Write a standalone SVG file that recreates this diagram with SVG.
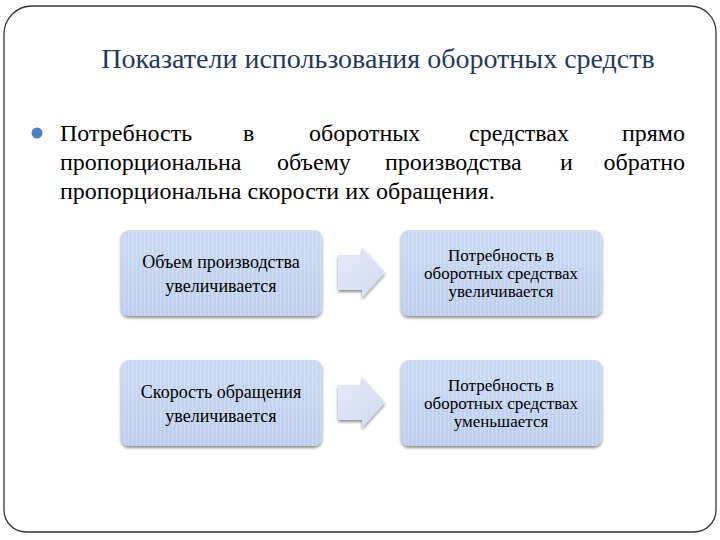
<svg xmlns="http://www.w3.org/2000/svg" width="720" height="540" viewBox="0 0 720 540">
<defs>
<style>
text{font-family:'Liberation Serif','Times New Roman',serif}
.title{font-size:28px;fill:#1f3a60}
.body{font-size:24px;fill:#000}
.box{font-size:17px;text-anchor:middle;fill:#000}
.boxl{font-size:18px}
</style>
<linearGradient id="bg" x1="0" y1="0" x2="0" y2="1">
<stop offset="0" stop-color="#cad9f3"/>
<stop offset="1" stop-color="#bdcdeb"/>
</linearGradient>
<pattern id="stripes" width="4" height="100" patternUnits="userSpaceOnUse">
<rect x="0" width="1.3" height="100" fill="#ffffff" opacity="0.22"/>
</pattern>
<linearGradient id="ag" x1="0" y1="0" x2="1" y2="1">
<stop offset="0" stop-color="#e4e9f8"/>
<stop offset="1" stop-color="#d2dbf1"/>
</linearGradient>
<filter id="sh" x="-10%" y="-10%" width="120%" height="130%">
<feGaussianBlur in="SourceAlpha" stdDeviation="1.5"/>
<feOffset dx="0" dy="2" result="b"/>
<feComponentTransfer><feFuncA type="linear" slope="0.45"/></feComponentTransfer>
<feMerge><feMergeNode/><feMergeNode in="SourceGraphic"/></feMerge>
</filter>
<path id="arrow" d="M0,8 H24 V0 L47,25.5 L24,51 V43 H0 Z"/>
</defs>
<rect width="720" height="540" fill="#fff"/>
<path d="M32,6 H690 A26,26 0 0 1 716,32 V510 A22,22 0 0 1 694,532 H26 A22,22 0 0 1 4,510 V34 A28,28 0 0 1 32,6 Z" fill="#fff" stroke="#333" stroke-width="1.3"/>
<text class="title" x="378" y="68" text-anchor="middle">Показатели использования оборотных средств</text>
<circle cx="37" cy="133" r="5.5" fill="#4f7fbf"/>
<g class="body">
<text x="60" y="141">Потребность</text>
<text x="243" y="141">в</text>
<text x="309" y="141">оборотных</text>
<text x="469" y="141">средствах</text>
<text x="685" y="141" text-anchor="end">прямо</text>
<text x="60" y="170">пропорциональна</text>
<text x="277" y="170">объему</text>
<text x="385" y="170">производства</text>
<text x="560" y="170">и</text>
<text x="685" y="170" text-anchor="end">обратно</text>
<text x="60" y="199">пропорциональна скорости их обращения.</text>
</g>
<g id="connectors">
<use href="#arrow" x="338" y="247" fill="url(#ag)" filter="url(#sh)"/>
<use href="#arrow" x="338" y="377" fill="url(#ag)" filter="url(#sh)"/>
</g>
<g id="n1">
<rect x="121" y="230" width="201" height="86" rx="8" fill="url(#bg)" filter="url(#sh)"/>
<rect x="121" y="230" width="201" height="86" rx="8" fill="url(#stripes)"/>
<text class="box boxl" x="221" y="268">Объем производства</text>
<text class="box boxl" x="221" y="292">увеличивается</text>
</g>
<g id="n2">
<rect x="401" y="230" width="201" height="86" rx="8" fill="url(#bg)" filter="url(#sh)"/>
<rect x="401" y="230" width="201" height="86" rx="8" fill="url(#stripes)"/>
<text class="box" x="501" y="261">Потребность в</text>
<text class="box" x="501" y="279">оборотных средствах</text>
<text class="box" x="501" y="297">увеличивается</text>
</g>
<g id="n3">
<rect x="121" y="360" width="201" height="86" rx="8" fill="url(#bg)" filter="url(#sh)"/>
<rect x="121" y="360" width="201" height="86" rx="8" fill="url(#stripes)"/>
<text class="box boxl" x="221" y="398">Скорость обращения</text>
<text class="box boxl" x="221" y="422">увеличивается</text>
</g>
<g id="n4">
<rect x="401" y="360" width="201" height="86" rx="8" fill="url(#bg)" filter="url(#sh)"/>
<rect x="401" y="360" width="201" height="86" rx="8" fill="url(#stripes)"/>
<text class="box" x="501" y="391">Потребность в</text>
<text class="box" x="501" y="409">оборотных средствах</text>
<text class="box" x="501" y="427">уменьшается</text>
</g>
</svg>
